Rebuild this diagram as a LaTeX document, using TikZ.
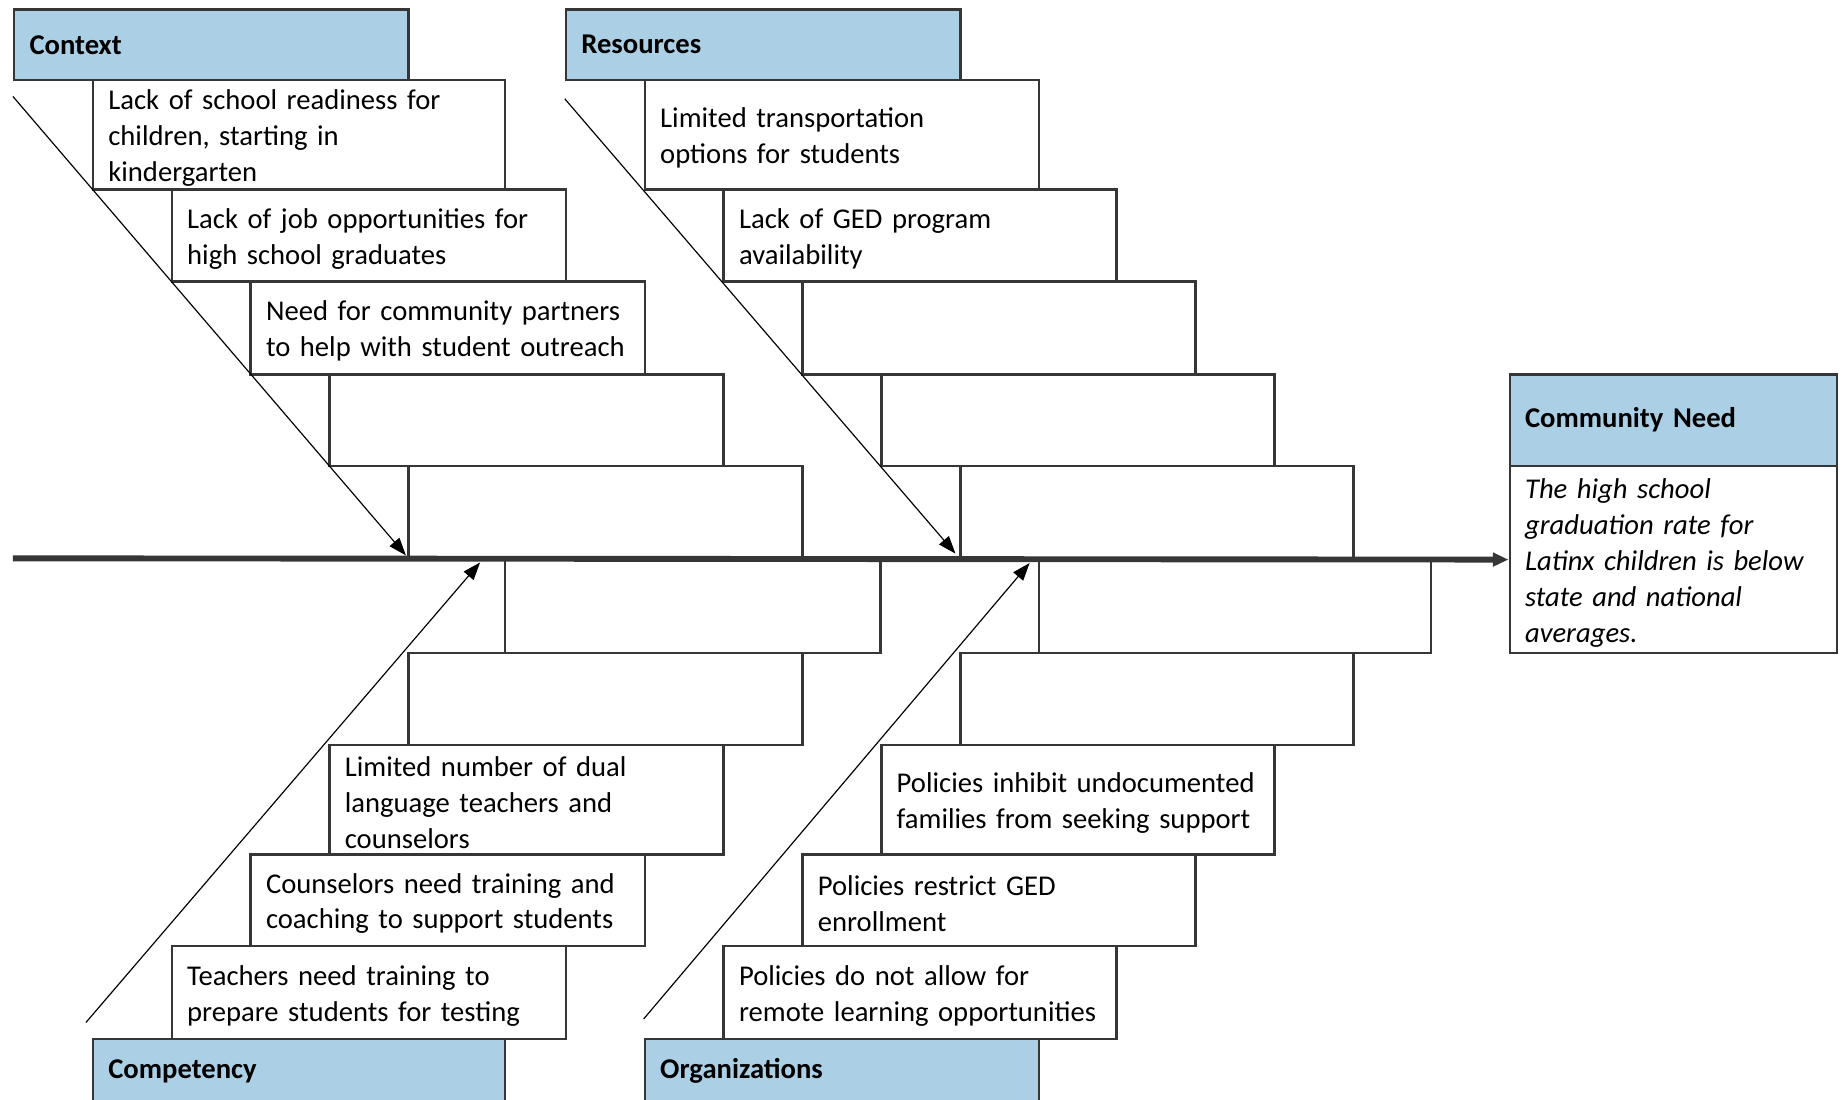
\documentclass[tikz,border=0pt]{standalone}
\usepackage{fontspec}
\setmainfont{Carlito}
\usetikzlibrary{arrows.meta}
\definecolor{hdrblue}{HTML}{ABD0E6}
\definecolor{edgegray}{HTML}{363636}
\newcommand\oneline[1]{\mbox{#1}}
\begin{document}
\begin{tikzpicture}[x=0.6pt,y=-0.6pt,
  base/.style={draw=edgegray, line width=1.3pt, anchor=north west, inner xsep=7.8pt, inner ysep=0pt,
    align=left, font=\fontsize{14.6}{18.3}\selectfont},
  cause/.style={base, fill=white, execute at begin node={\rule{0pt}{13.5pt}}},
  hdr/.style={base, fill=hdrblue, font=\fontsize{14.6}{18.3}\selectfont\bfseries},
  wA/.style={text width=185.4pt},
  wB/.style={text width=184.8pt},
  spine/.style={draw=edgegray, line width=3pt, -{Triangle[length=8pt,width=6.8pt]}},
  diag/.style={draw=black, line width=0.6pt, -{Triangle[length=9pt,width=6.5pt]}}
]
\useasboundingbox (0,0) rectangle (1568,934);
\clip (0,0) rectangle (1568,934);
\fill[white] (0,0) rectangle (1568,934);

% Context
\node[hdr, wA, minimum height=36pt] (hC) at (11,7) {Context};
\node[cause, text width=194.4pt, minimum height=55.8pt] (c1) at (78,67)
  {\oneline{Lack of school readiness for}\\\oneline{children, starting in}\\\oneline{kindergarten}};
\node[cause, wA, minimum height=46.8pt] (c2) at (145,160)
  {\oneline{Lack of job opportunities for}\\\oneline{high school graduates}};
\node[cause, wA, minimum height=47.4pt] (c3) at (212,238)
  {\oneline{Need for community partners}\\\oneline{to help with student outreach}};
\node[cause, wA, minimum height=46.8pt] (c4) at (279,317) {};
\node[cause, wA, minimum height=47.4pt] (c5) at (346,395) {};

% Resources
\node[hdr, wA, minimum height=36pt] (hR) at (480,7) {Resources};
\node[cause, wA, minimum height=55.8pt] (r1) at (547,67)
  {\oneline{Limited transportation}\\\oneline{options for students}};
\node[cause, wB, minimum height=46.8pt] (r2) at (614,160)
  {\oneline{Lack of GED program}\\\oneline{availability}};
\node[cause, wB, minimum height=47.4pt] (r3) at (681,238) {};
\node[cause, wB, minimum height=46.8pt] (r4) at (748,317) {};
\node[cause, wB, minimum height=47.4pt] (r5) at (815,395) {};

% Competency
\node[cause, text width=175.8pt, minimum height=48pt] (p1) at (428,474) {};
\node[cause, wA, minimum height=46.8pt] (p2) at (346,554) {};
\node[cause, wA, minimum height=55.8pt] (p3) at (279,632)
  {\oneline{Limited number of dual}\\\oneline{language teachers and}\\\oneline{counselors}};
\node[cause, wA, minimum height=46.8pt] (p4) at (212,725)
  {\oneline{Counselors need training and}\\\oneline{coaching to support students}};
\node[cause, wA, minimum height=47.4pt] (p5) at (145,803)
  {\oneline{Teachers need training to}\\\oneline{prepare students for testing}};
\node[hdr, text width=194.4pt, minimum height=32.4pt] (hP) at (78,882) {Competency};

% Organizations
\node[cause, text width=184.2pt, minimum height=48pt] (o1) at (882,474) {};
\node[cause, wB, minimum height=46.8pt] (o2) at (815,554) {};
\node[cause, wB, minimum height=55.8pt] (o3) at (748,632)
  {\oneline{Policies inhibit undocumented}\\\oneline{families from seeking support}};
\node[cause, wB, minimum height=46.8pt] (o4) at (681,725)
  {\oneline{Policies restrict GED}\\\oneline{enrollment}};
\node[cause, wB, minimum height=47.4pt] (o5) at (614,803)
  {\oneline{Policies do not allow for}\\\oneline{remote learning opportunities}};
\node[hdr, wA, minimum height=32.4pt] (hO) at (547,882) {Organizations};

% Community need
\node[hdr, text width=151.2pt, minimum height=46.8pt] (hN) at (1282,317) {Community Need};
\node[cause, text width=151.2pt, minimum height=95.4pt, font=\fontsize{14.6}{18.3}\selectfont\itshape] (bN) at (1282,395)
  {\oneline{The high school}\\\oneline{graduation rate for}\\\oneline{Latinx children is below}\\\oneline{state and national}\\\oneline{averages.}};

% spine and bones
\coordinate (sp0) at (11,474.5);
\draw[spine] (sp0) -- (bN.west);

\coordinate (cS) at (11,82);
\coordinate (cE) at (345,472);
\coordinate (rS) at (480,84);
\coordinate (rE) at (812,470.5);
\coordinate (pS) at (73,869);
\coordinate (pE) at (408,478);
\coordinate (oS) at (547,866);
\coordinate (oE) at (875,478.5);
\draw[diag] (cS) -- (cE);
\draw[diag] (rS) -- (rE);
\draw[diag] (pS) -- (pE);
\draw[diag] (oS) -- (oE);
\end{tikzpicture}
\end{document}
